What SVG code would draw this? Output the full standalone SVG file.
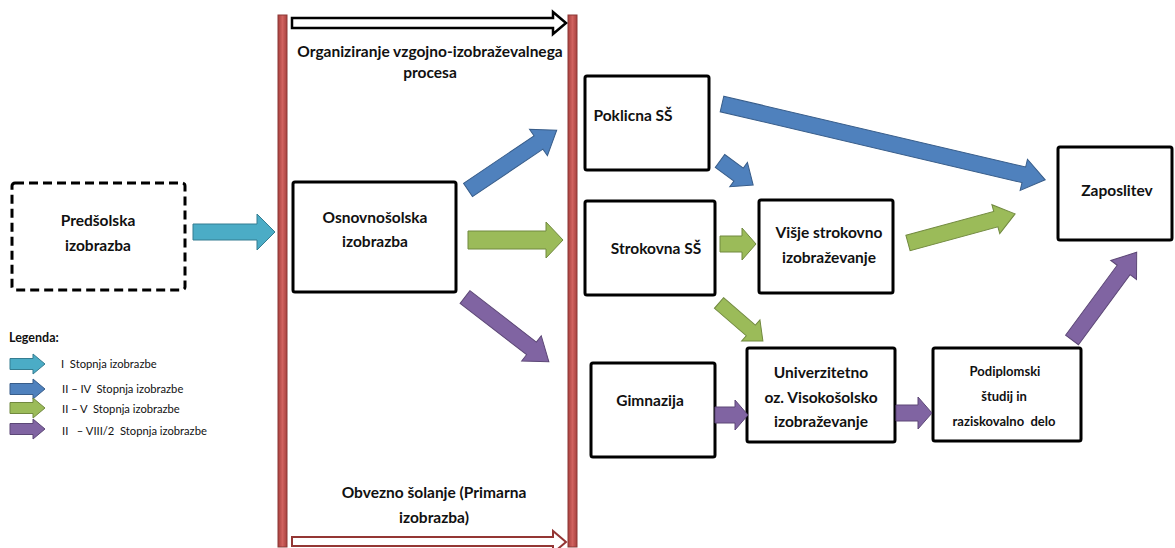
<svg xmlns="http://www.w3.org/2000/svg" width="1175" height="548" viewBox="0 0 1175 548">
  <style>
    .box { fill: #fff; stroke: #000; stroke-width: 3; }
    .dashed { fill: #fff; stroke: #000; stroke-width: 3; stroke-dasharray: 9 5; }
    .lbl { font-family: Lato, "Liberation Sans", sans-serif; font-weight: bold; font-size: 15.5px; fill: #111; text-anchor: middle; }
    .lbl-s { font-family: Lato, "Liberation Sans", sans-serif; font-weight: bold; font-size: 13px; fill: #111; text-anchor: middle; white-space: pre; }
    .leg { font-family: Lato, "Liberation Sans", sans-serif; font-size: 11.2px; fill: #111; white-space: pre; }
    .leg-t { font-family: Lato, "Liberation Sans", sans-serif; font-weight: bold; font-size: 12.5px; fill: #111; }
    .teal { fill: #4BACC6; stroke: #357D91; stroke-width: 1; }
    .blue { fill: #4F81BD; stroke: #385D8A; stroke-width: 1; }
    .green { fill: #9BBB59; stroke: #71893F; stroke-width: 1; }
    .purple { fill: #8064A2; stroke: #5C4776; stroke-width: 1; }
    .bar { fill: url(#barGrad); stroke: #8C3836; stroke-width: 1; }
  </style>
  <defs>
    <linearGradient id="barGrad" x1="0" y1="0" x2="1" y2="0">
      <stop offset="0" stop-color="#A8403D"/>
      <stop offset="0.5" stop-color="#D0625F"/>
      <stop offset="1" stop-color="#A8403D"/>
    </linearGradient>
  </defs>
  <rect width="1175" height="548" fill="#fff"/>

  <!-- phase bars and phase arrows -->
  <g id="phase">
    <rect class="bar" x="278" y="15" width="9" height="532"/>
    <rect class="bar" x="568" y="15" width="9" height="532"/>
    <polygon points="292,18 553,18 553,12 566,23 553,34 553,28 292,28" fill="#fff" stroke="#000" stroke-width="2.5"/>
    <polygon points="292,537 553,537 553,531 566,542 553,553 553,546 292,546" fill="#fff" stroke="#943634" stroke-width="2"/>
    <text class="lbl" x="430" y="57">Organiziranje vzgojno-izobraževalnega</text>
    <text class="lbl" x="430" y="78">procesa</text>
    <text class="lbl" x="434" y="498">Obvezno šolanje (Primarna</text>
    <text class="lbl" x="434" y="523">izobrazba)</text>
  </g>

  <!-- nodes -->
  <g id="predsolska">
    <rect class="dashed" x="12" y="183" width="173" height="107" rx="3"/>
    <text class="lbl" x="98" y="226">Predšolska</text>
    <text class="lbl" x="98" y="251">izobrazba</text>
  </g>
  <g id="osnovnosolska">
    <rect class="box" x="293" y="182" width="163" height="110" rx="2"/>
    <text class="lbl" x="375" y="223">Osnovnošolska</text>
    <text class="lbl" x="375" y="247">izobrazba</text>
  </g>
  <g id="poklicna">
    <rect class="box" x="585" y="76" width="124" height="94" rx="2"/>
    <text class="lbl" x="633" y="121">Poklicna SŠ</text>
  </g>
  <g id="strokovna">
    <rect class="box" x="585" y="201" width="130" height="94" rx="2"/>
    <text class="lbl" x="656" y="254">Strokovna SŠ</text>
  </g>
  <g id="visje">
    <rect class="box" x="759" y="200" width="134" height="93" rx="2"/>
    <text class="lbl" x="829" y="238">Višje strokovno</text>
    <text class="lbl" x="829" y="263">izobraževanje</text>
  </g>
  <g id="zaposlitev">
    <rect class="box" x="1058" y="147" width="114" height="93" rx="2"/>
    <text class="lbl" x="1117" y="196">Zaposlitev</text>
  </g>
  <g id="gimnazija">
    <rect class="box" x="591" y="363" width="124" height="94" rx="2"/>
    <text class="lbl" x="650" y="406">Gimnazija</text>
  </g>
  <g id="univerzitetno">
    <rect class="box" x="747" y="348" width="148" height="94" rx="2"/>
    <text class="lbl" x="821" y="378">Univerzitetno</text>
    <text class="lbl" x="821" y="403">oz. Visokošolsko</text>
    <text class="lbl" x="821" y="427">izobraževanje</text>
  </g>
  <g id="podiplomski">
    <rect class="box" x="933" y="348" width="148" height="93" rx="2"/>
    <text class="lbl-s" x="1005" y="376">Podiplomski</text>
    <text class="lbl-s" x="1004" y="401">študij in</text>
    <text class="lbl-s" x="1004" y="426">raziskovalno  delo</text>
  </g>

  <!-- connectors: block arrows drawn along +x, then placed -->
  <g id="connectors">
    <polygon class="teal" points="0,-8 64,-8 64,-18 82,0 64,18 64,8 0,8" transform="translate(193,232)"/>
    <polygon class="blue" points="0,-8 85,-8 85,-16 107,0 85,16 85,8 0,8" transform="translate(468,190) rotate(-34)"/>
    <polygon class="green" points="0,-9 78,-9 78,-18 95,0 78,18 78,9 0,9" transform="translate(468,240)"/>
    <polygon class="purple" points="0,-8 84,-8 84,-16 106,0 84,16 84,8 0,8" transform="translate(465,297) rotate(37.7)"/>
    <polygon class="blue" points="0,-8 310,-8 310,-16 332,0 310,16 310,8 0,8" transform="translate(722,104) rotate(13.2)"/>
    <polygon class="blue" points="0,-8 23,-8 23,-15 41,0 23,15 23,8 0,8" transform="translate(720,161) rotate(36)"/>
    <polygon class="green" points="0,-8 22,-8 22,-16 36,0 22,16 22,8 0,8" transform="translate(720,244)"/>
    <polygon class="green" points="0,-8 91,-8 91,-15 111,0 91,15 91,8 0,8" transform="translate(908,243) rotate(-15.2)"/>
    <polygon class="green" points="0,-7 42,-7 42,-14 58,0 42,14 42,7 0,7" transform="translate(719,303) rotate(40.8)"/>
    <polygon class="purple" points="0,-8 20,-8 20,-15 33,0 20,15 20,8 0,8" transform="translate(715,415)"/>
    <polygon class="purple" points="0,-8 22,-8 22,-16 36,0 22,16 22,8 0,8" transform="translate(896,413)"/>
    <polygon class="purple" points="0,-8 87,-8 87,-16 109,0 87,16 87,8 0,8" transform="translate(1072,340) rotate(-53.6)"/>
  </g>

  <!-- legend -->
  <g id="legend">
    <text class="leg-t" x="9" y="342">Legenda:</text>
    <polygon class="teal" points="0,-5.5 23,-5.5 23,-10 35,0 23,10 23,5.5 0,5.5" transform="translate(10,364)"/>
    <polygon class="blue" points="0,-5.5 23,-5.5 23,-10 35,0 23,10 23,5.5 0,5.5" transform="translate(10,389)"/>
    <polygon class="green" points="0,-5.5 23,-5.5 23,-10 35,0 23,10 23,5.5 0,5.5" transform="translate(10,408)"/>
    <polygon class="purple" points="0,-5.5 23,-5.5 23,-10 35,0 23,10 23,5.5 0,5.5" transform="translate(10,429)"/>
    <text class="leg" x="61" y="368">I  Stopnja izobrazbe</text>
    <text class="leg" x="62" y="393">II – IV  Stopnja izobrazbe</text>
    <text class="leg" x="62" y="413">II – V  Stopnja izobrazbe</text>
    <text class="leg" x="62" y="435">II   – VIII/2  Stopnja izobrazbe</text>
  </g>
</svg>
